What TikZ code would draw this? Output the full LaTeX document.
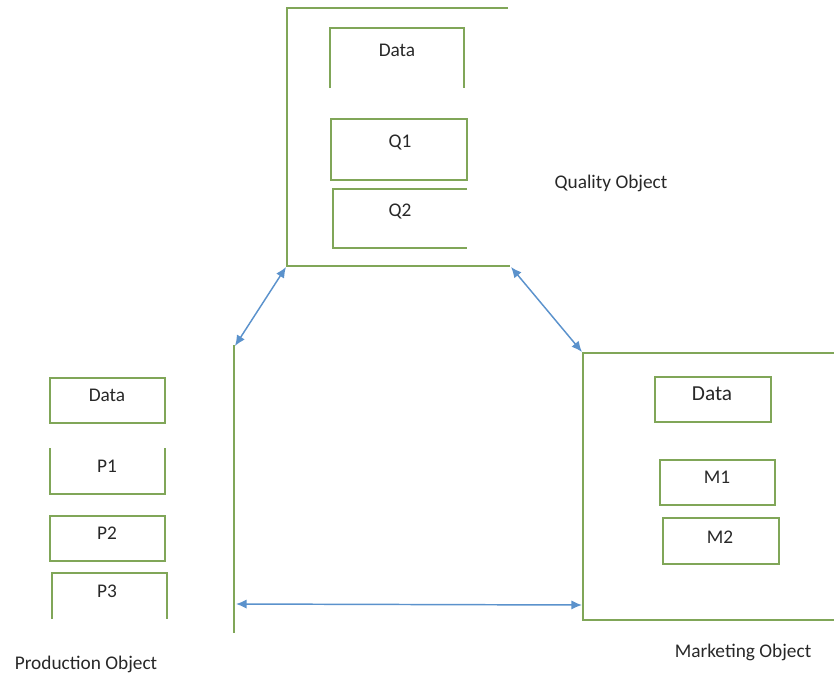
\documentclass[tikz,border=0pt]{standalone}
\usepackage{fontspec}
\setmainfont{Carlito}
\usetikzlibrary{arrows.meta}
\definecolor{boxgreen}{RGB}{128,166,88}
\definecolor{linkblue}{RGB}{91,146,204}
\definecolor{txtgray}{RGB}{40,40,40}
\tikzset{
  outline/.style={draw=boxgreen, line width=1.1pt},
  link/.style={draw=linkblue, line width=1.1pt, {Latex[length=8pt,width=7pt]}-{Latex[length=8pt,width=7pt]}},
  lbl/.style={draw=none, text=txtgray, font=\fontsize{14.5}{16}\selectfont, inner sep=0pt}
}

\begin{document}
\begin{tikzpicture}[x=0.75pt,y=-0.75pt]
  \useasboundingbox (0,0) rectangle (834,675);

  %quality object
  \draw[outline] (508,8) -- (287,8) -- (287,266) -- (510,266);
  \draw[outline] (330,88) -- (330,28) -- (464,28) -- (464,88);
  \draw[outline] (331,119) rectangle (467,180);
  \draw[outline] (467,189) -- (333,189) -- (333,248) -- (467,248);
  \coordinate (qleft) at (286,267);
  \coordinate (qright) at (511,267);

  \node[lbl] (qdata) at (397,50) {Data};
  \node[lbl] (q1) at (400,143) {Q1};
  \node[lbl] (q2) at (400,212) {Q2};
  \node[lbl] (qname) at (611,183) {Quality Object};

  %production object
  \draw[outline] (234,345) -- (234,633);
  \draw[outline] (50,378) rectangle (165,423);
  \draw[outline] (50,448) -- (50,494) -- (165,494) -- (165,448);
  \draw[outline] (50,516) rectangle (165,561);
  \draw[outline] (52,619) -- (52,573) -- (167,573) -- (167,619);
  \coordinate (ptop) at (235,346);
  \coordinate (pbot) at (236,604);

  \node[lbl] (pdata) at (107,395) {Data};
  \node[lbl] (p1) at (107,466) {P1};
  \node[lbl] (p2) at (107,533) {P2};
  \node[lbl] (p3) at (107,591) {P3};
  \node[lbl] (pname) at (86,664) {Production Object};

  %marketing object
  \draw[outline] (834,353) -- (583,353) -- (583,620) -- (834,620);
  \draw[outline] (655,377) rectangle (771,422);
  \draw[outline] (660,460) rectangle (775,505);
  \draw[outline] (663,518) rectangle (779,564);
  \coordinate (mtop) at (582,352);
  \coordinate (mbot) at (582,605);

  \node[lbl, font=\fontsize{16}{18}\selectfont] (mdata) at (712,394) {Data};
  \node[lbl] (m1) at (717,477) {M1};
  \node[lbl] (m2) at (720,537) {M2};
  \node[lbl] (mname) at (743,652) {Marketing Object};

  %links
  \draw[link] (qleft) -- (ptop);
  \draw[link] (qright) -- (mtop);
  \draw[link] (pbot) -- (mbot);
\end{tikzpicture}
\end{document}
